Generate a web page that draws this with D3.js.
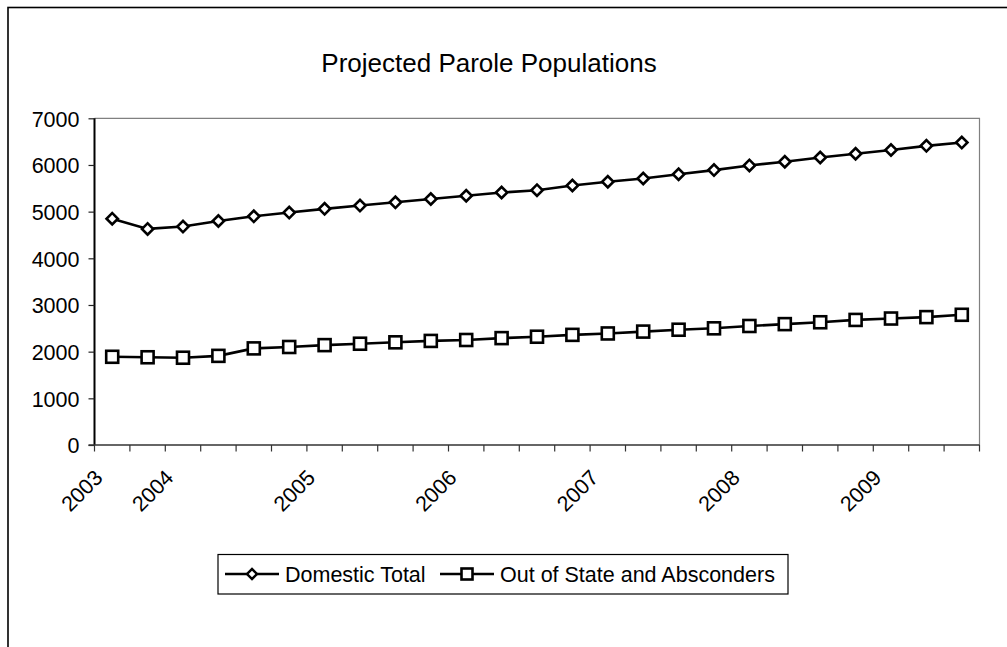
<!DOCTYPE html>
<html><head><meta charset="utf-8">
<script src="https://cdn.jsdelivr.net/npm/d3@7"></script>
<style>body{margin:0;background:#fff}svg{display:block}text{font-family:"Liberation Sans",Arial,sans-serif;fill:#000}</style>
</head><body>
<script>
const categories = ["2003 Q3","2003 Q4","2004 Q1","2004 Q2","2004 Q3","2004 Q4","2005 Q1","2005 Q2","2005 Q3","2005 Q4","2006 Q1","2006 Q2","2006 Q3","2006 Q4","2007 Q1","2007 Q2","2007 Q3","2007 Q4","2008 Q1","2008 Q2","2008 Q3","2008 Q4","2009 Q1","2009 Q2","2009 Q3"];
const domesticTotal = [4850,4630,4680,4800,4900,4980,5060,5130,5200,5270,5340,5410,5460,5560,5640,5710,5800,5890,5990,6070,6160,6240,6320,6410,6480];
const outOfState = [1890,1880,1870,1910,2070,2100,2140,2170,2200,2230,2250,2290,2320,2360,2390,2430,2470,2500,2550,2590,2630,2680,2710,2740,2790];
const xTickLabels = [{cat:"2003 Q3",label:"2003"},{cat:"2004 Q1",label:"2004"},{cat:"2005 Q1",label:"2005"},{cat:"2006 Q1",label:"2006"},{cat:"2007 Q1",label:"2007"},{cat:"2008 Q1",label:"2008"},{cat:"2009 Q1",label:"2009"}];
const yTicks = [0,1000,2000,3000,4000,5000,6000,7000];
const seriesNames = ["Domestic Total","Out of State and Absconders"];

const W=1007,H=647;
const L=94.5,R=979.5,T=118.3,B=445;
const svg=d3.select("body").append("svg").attr("width",W).attr("height",H);
svg.append("rect").attr("x",8).attr("y",7.5).attr("width",1010).attr("height",660).attr("fill","none").attr("stroke","#000").attr("stroke-width",1.6);

svg.append("text").attr("x",489).attr("y",72).attr("text-anchor","middle").style("font-size","26px").text("Projected Parole Populations");

const x=d3.scaleBand().domain(categories).range([L,R]).padding(0);
const y=d3.scaleLinear().domain([0,7000]).range([B,T]);

// plot area border
svg.append("path").attr("d",`M${L},${T}H${R}V${B}`).attr("fill","none").attr("stroke","#808080").attr("stroke-width",1.2);

// y axis
const ya=svg.append("g").attr("transform",`translate(${L},0)`).call(d3.axisLeft(y).tickValues(yTicks).tickSize(6).tickPadding(9).tickFormat(d3.format("d")));
ya.select(".domain").attr("stroke","#000").attr("stroke-width",2).attr("d",`M0,${T}V${B}`);
ya.selectAll(".tick line").attr("stroke","#222").attr("stroke-width",1.2);
ya.selectAll("text").style("font-size","21.5px").attr("dy","0.36em");

// x axis
const xa=svg.append("g").attr("transform",`translate(0,${B})`);
xa.append("line").attr("x1",L-6).attr("x2",R).attr("y1",0).attr("y2",0).attr("stroke","#333").attr("stroke-width",1.6);
const bounds=categories.map(c=>x(c)).concat([x(categories[categories.length-1])+x.bandwidth()]);
xa.selectAll("line.tk").data(bounds).join("line").attr("class","tk").attr("x1",d=>d).attr("x2",d=>d).attr("y1",0).attr("y2",6.5).attr("stroke","#333").attr("stroke-width",1.2);
xa.selectAll("text.xl").data(xTickLabels).join("text").attr("class","xl")
  .attr("transform",d=>`translate(${x(d.cat)+9.5},${34}) rotate(-45)`)
  .attr("text-anchor","end").style("font-size","21.5px").text(d=>d.label);

const line=d3.line().x((d,i)=>x(categories[i])+x.bandwidth()/2).y(d=>y(d));
[domesticTotal,outOfState].forEach(s=>{
  svg.append("path").datum(s).attr("d",line).attr("fill","none").attr("stroke","#000").attr("stroke-width",2.6);
});
const dia=d3.symbol().type(d3.symbolDiamond2).size(110);
svg.selectAll("path.dm").data(domesticTotal).join("path").attr("class","dm")
  .attr("d",d3.symbol().type(d3.symbolSquare).size(64))
  .attr("transform",(d,i)=>`translate(${x(categories[i])+x.bandwidth()/2},${y(d)}) rotate(45)`)
  .attr("fill","#fff").attr("stroke","#000").attr("stroke-width",2.6);
svg.selectAll("rect.sq").data(outOfState).join("rect").attr("class","sq")
  .attr("x",(d,i)=>x(categories[i])+x.bandwidth()/2-6).attr("y",d=>y(d)-6).attr("width",12).attr("height",12)
  .attr("fill","#fff").attr("stroke","#000").attr("stroke-width",2.6);

// legend
const lg=svg.append("g");
lg.append("rect").attr("x",218).attr("y",554.5).attr("width",570).attr("height",39.5).attr("fill","#fff").attr("stroke","#000").attr("stroke-width",1.2);
const ly=574;
lg.append("line").attr("x1",225).attr("x2",279).attr("y1",ly).attr("y2",ly).attr("stroke","#000").attr("stroke-width",2.6);
lg.append("path").attr("d",d3.symbol().type(d3.symbolSquare).size(50)).attr("transform",`translate(252,${ly}) rotate(45)`).attr("fill","#fff").attr("stroke","#000").attr("stroke-width",2.4);
lg.append("text").attr("x",285).attr("y",ly).attr("dy","0.36em").style("font-size","21.5px").text(seriesNames[0]);
lg.append("line").attr("x1",440).attr("x2",494).attr("y1",ly).attr("y2",ly).attr("stroke","#000").attr("stroke-width",2.6);
lg.append("rect").attr("x",461.5).attr("y",ly-5.5).attr("width",11).attr("height",11).attr("fill","#fff").attr("stroke","#000").attr("stroke-width",2.6);
lg.append("text").attr("x",500).attr("y",ly).attr("dy","0.36em").style("font-size","21.5px").text(seriesNames[1]);
</script>
</body></html>
